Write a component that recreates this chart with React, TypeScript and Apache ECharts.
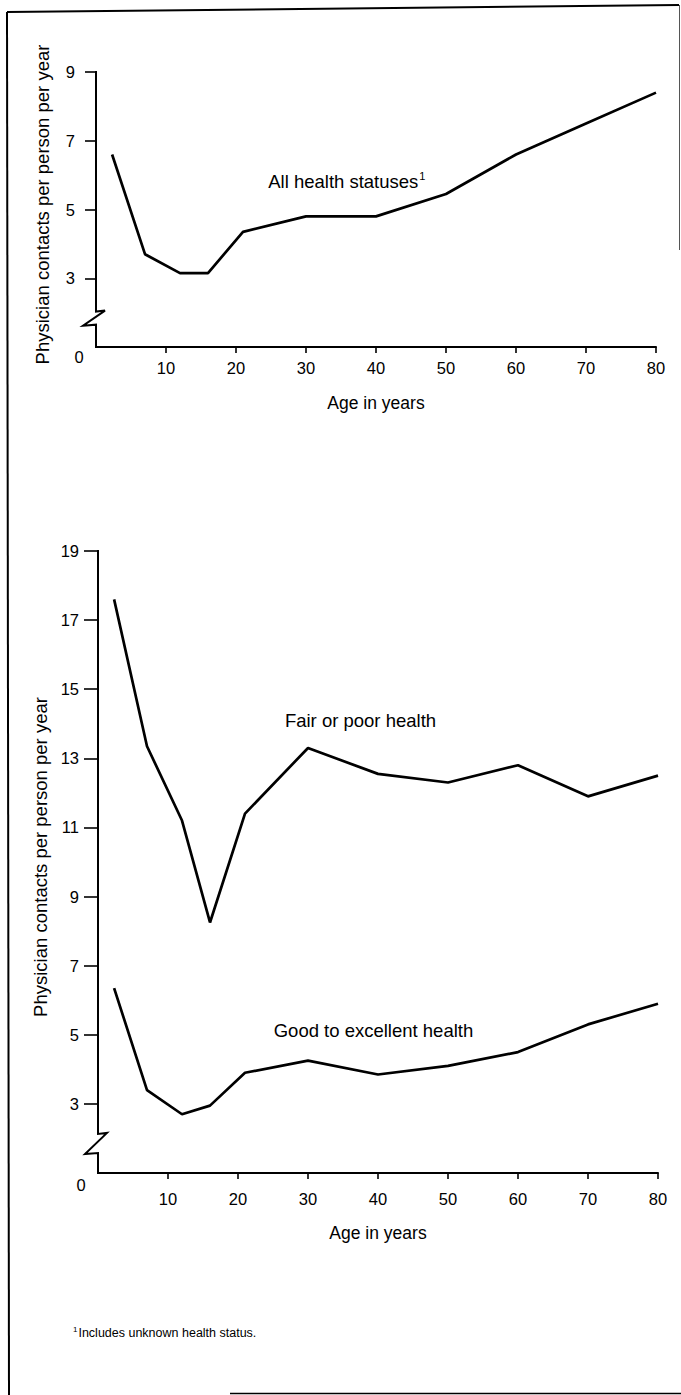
import React, { useEffect, useRef } from "react";
import * as echarts from "echarts";

// ---- data ----
const ages = [2.3, 7, 12, 16, 21, 30, 40, 50, 60, 70, 80];
const allStatuses = [6.6, 3.7, 3.15, 3.15, 4.35, 4.8, 4.8, 5.45, 6.6, 7.5, 8.4];
const fairPoor = [17.6, 13.35, 11.2, 8.25, 11.4, 13.3, 12.55, 12.3, 12.8, 11.9, 12.5];
const goodExcellent = [6.35, 3.4, 2.7, 2.95, 3.9, 4.25, 3.85, 4.1, 4.5, 5.3, 5.9];
const xTicks = [10, 20, 30, 40, 50, 60, 70, 80];
const yTicksTop = [3, 5, 7, 9];
const yTicksBottom = [3, 5, 7, 9, 11, 13, 15, 17, 19];
const yAxisTitle = "Physician contacts per person per year";
const xAxisTitle = "Age in years";
const footnote = "Includes unknown health status.";

const FONT = '"Liberation Sans", Arial, Helvetica, sans-serif';
const INK = "#000";

function pairs(xs: number[], ys: number[]) {
  return xs.map((x, i) => [x, ys[i]]);
}

export default function App() {
  const ref = useRef<HTMLDivElement>(null);
  useEffect(() => {
    if (!ref.current) return;
    const chart = echarts.init(ref.current, null, { renderer: "svg" });

    const xAxisBase = (grid: number, margin: number, nameGap: number) => ({
      type: "value",
      gridIndex: grid,
      min: 0,
      max: 80,
      interval: 10,
      axisLine: { show: true, lineStyle: { color: INK, width: 2 } },
      axisTick: {
        show: true,
        length: 6,
        customValues: xTicks,
        lineStyle: { color: INK, width: 1.6 },
      },
      axisLabel: {
        customValues: xTicks,
        margin,
        color: INK,
        fontSize: 16.5,
        fontFamily: FONT,
      },
      splitLine: { show: false },
      name: xAxisTitle,
      nameLocation: "middle",
      nameGap,
      nameTextStyle: { color: INK, fontSize: 17.5, fontFamily: FONT },
    });

    const yAxisBase = (
      grid: number,
      max: number,
      ticks: number[],
      tickLen: number,
      margin: number
    ) => ({
      type: "value",
      gridIndex: grid,
      min: 1,
      max,
      interval: 2,
      axisLine: { show: false },
      axisTick: {
        show: true,
        length: tickLen,
        customValues: ticks,
        lineStyle: { color: INK, width: 1.6 },
      },
      axisLabel: {
        customValues: ticks,
        margin,
        color: INK,
        fontSize: 16.5,
        fontFamily: FONT,
      },
      splitLine: { show: false },
      name: yAxisTitle,
      nameLocation: "middle",
      nameGap: 44,
      nameTextStyle: { color: INK, fontSize: 18.5, fontFamily: FONT, padding: [0, 0, 0, 10] },
    });

    const lineSeries = (grid: number, data: number[][]) => ({
      type: "line",
      xAxisIndex: grid,
      yAxisIndex: grid,
      data,
      showSymbol: false,
      symbol: "none",
      lineStyle: { color: INK, width: 2.7 },
      silent: true,
    });

    chart.setOption({
      animation: false,
      backgroundColor: "#fff",
      textStyle: { fontFamily: FONT },
      grid: [
        { left: 96, right: 25, top: 72, height: 275 },
        { left: 98, right: 23, top: 551, height: 622 },
      ],
      xAxis: [xAxisBase(0, 12, 47), xAxisBase(1, 17, 51)],
      yAxis: [
        yAxisBase(0, 9, yTicksTop, 11, 21),
        yAxisBase(1, 19, yTicksBottom, 14, 19),
      ],
      series: [
        lineSeries(0, pairs(ages, allStatuses)),
        lineSeries(1, pairs(ages, fairPoor)),
        lineSeries(1, pairs(ages, goodExcellent)),
      ],
    });

    const px = (g: number, x: number, y: number) =>
      chart.convertToPixel({ gridIndex: g } as any, [x, y]) as number[];

    // broken y-axis line
    const brokenAxis = (g: number, max: number, upper: number, lower: number) => {
      const t = px(g, 0, max);
      const u = px(g, 0, upper);
      const l = px(g, 0, lower);
      const b = px(g, 0, 1);
      const ax = t[0];
      return {
        type: "polyline",
        shape: {
          points: [
            [ax, t[1] - 1],
            [ax, u[1] + 1],
            [ax + 9, u[1]],
            [ax - 13, l[1]],
            [ax, l[1] - 1],
            [ax, b[1] + 1],
          ],
        },
        style: { stroke: INK, lineWidth: 2, fill: null, lineJoin: "miter" },
        silent: true,
      };
    };

    // "0" label at the foot of a broken axis
    const zeroLabel = (g: number, dx: number, dy: number) => {
      const b = px(g, 0, 1);
      return {
        type: "text",
        x: b[0] + dx,
        y: b[1] + dy,
        silent: true,
        style: {
          text: "0",
          fontSize: 16.5,
          fontFamily: FONT,
          fill: INK,
          align: "center",
          verticalAlign: "middle",
        },
      };
    };

    const note = (g: number, x: number, y: number, text: string, sup?: string) => {
      const p = px(g, x, y);
      return {
        type: "text",
        x: p[0],
        y: p[1],
        silent: true,
        style: {
          text: sup ? `{m|${text}}{s|${sup}}` : `{m|${text}}`,
          verticalAlign: "middle",
          align: "left",
          rich: {
            m: { fontSize: 18.5, fontFamily: FONT, fill: INK, lineHeight: 22 },
            s: { fontSize: 11, fontFamily: FONT, fill: INK, verticalAlign: "top", lineHeight: 22, padding: [0, 0, 8, 1] },
          },
        },
      };
    };

    chart.setOption({
      graphic: [
        // frame
        { type: "line", shape: { x1: 7, y1: 12, x2: 679, y2: 5 }, style: { stroke: INK, lineWidth: 2 }, silent: true },
        { type: "line", shape: { x1: 7, y1: 12, x2: 9, y2: 1395 }, style: { stroke: INK, lineWidth: 2 }, silent: true },
        { type: "line", shape: { x1: 679.5, y1: 5, x2: 679.5, y2: 250 }, style: { stroke: "#555", lineWidth: 1 }, silent: true },
        { type: "line", shape: { x1: 230, y1: 1393.5, x2: 681, y2: 1393.5 }, style: { stroke: INK, lineWidth: 1.5 }, silent: true },
        brokenAxis(0, 9, 2.06, 1.62),
        brokenAxis(1, 19, 2.16, 1.55),
        zeroLabel(0, -17, 10),
        zeroLabel(1, -17, 12),
        note(0, 24.6, 5.82, "All health statuses", "1"),
        note(1, 26.7, 14.1, "Fair or poor health"),
        note(1, 25.1, 5.12, "Good to excellent health"),
        {
          type: "text",
          x: 73,
          y: 1333,
          silent: true,
          style: {
            text: `{s|1}{m|${footnote}}`,
            verticalAlign: "middle",
            rich: {
              m: { fontSize: 12.5, fontFamily: FONT, fill: INK, lineHeight: 16 },
              s: { fontSize: 8, fontFamily: FONT, fill: INK, verticalAlign: "top", lineHeight: 16, padding: [0, 1, 5, 0] },
            },
          },
        },
      ],
    });

    return () => chart.dispose();
  }, []);

  return (
    <div
      ref={ref}
      style={{ position: "absolute", left: 0, top: 0, width: 681, height: 1395, background: "#fff" }}
    />
  );
}
